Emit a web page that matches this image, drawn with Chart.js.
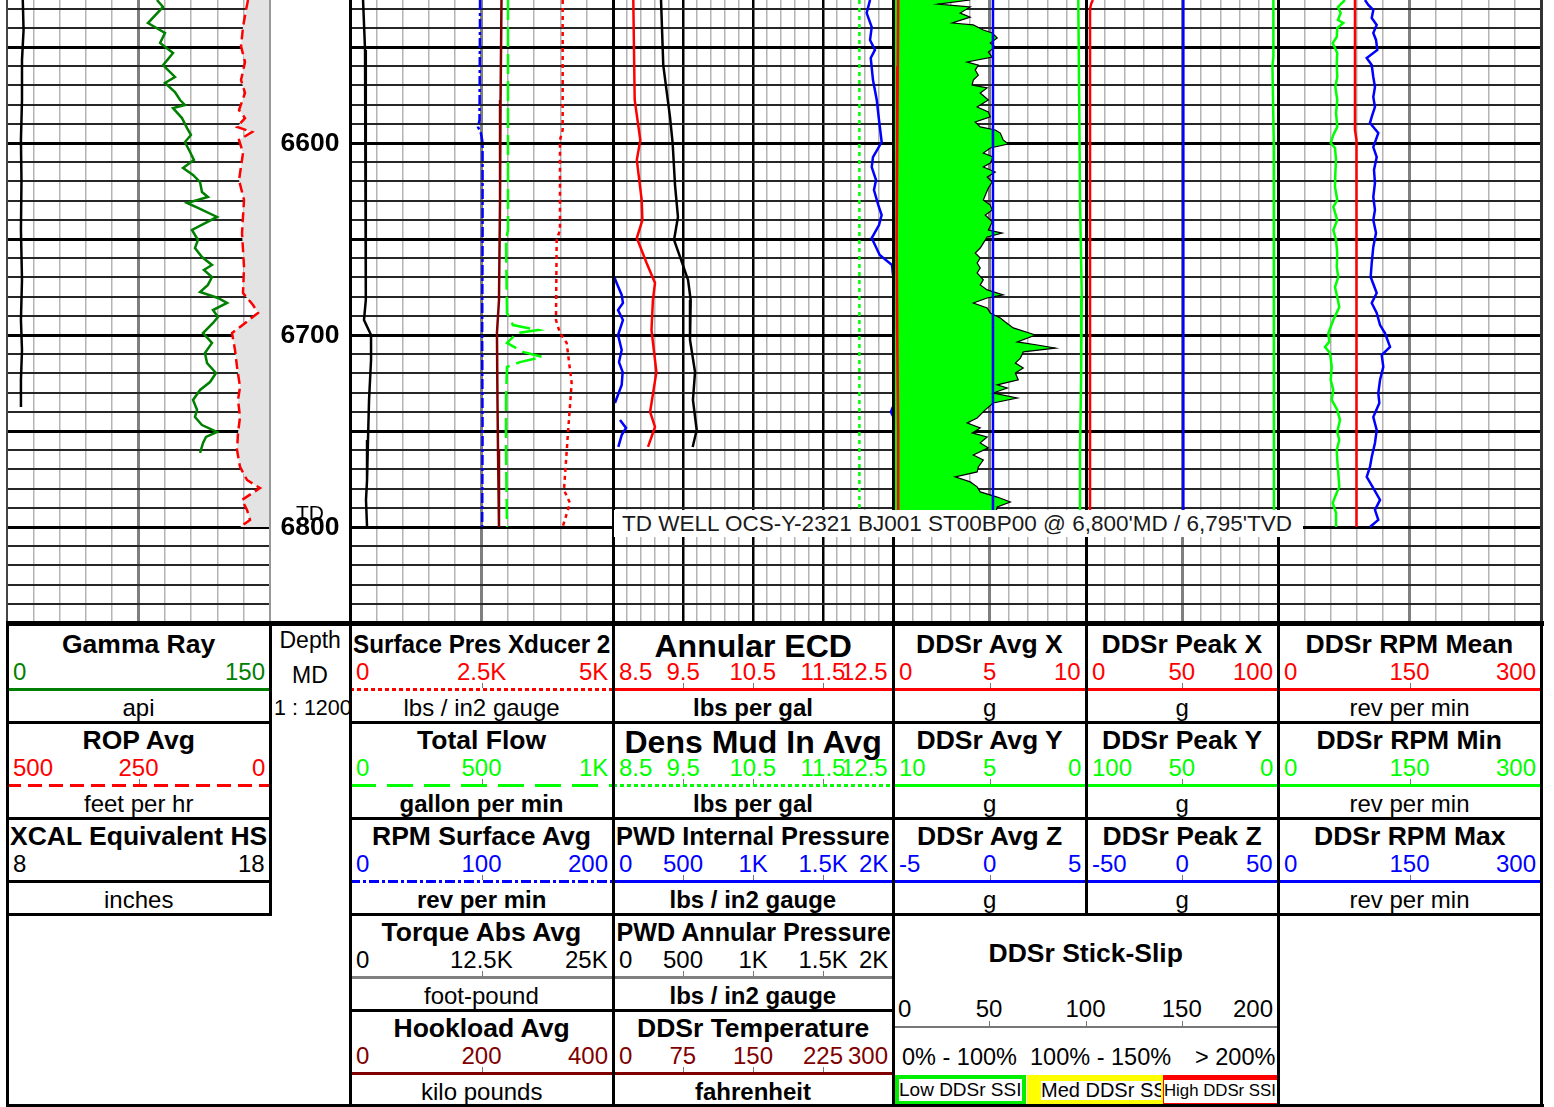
<!DOCTYPE html>
<html>
<head>
<meta charset="utf-8">
<title>Drilling dynamics log</title>
<script src="https://cdn.jsdelivr.net/npm/chart.js@4.4.1/dist/chart.umd.min.js"></script>
<style>
  html, body { margin: 0; padding: 0; background: #fff; }
  #sheet { position: relative; width: 1554px; height: 1107px; overflow: hidden;
           font-family: "Liberation Sans", Arial, Helvetica, sans-serif; color: #000; }
  .trk { position: absolute; top: 0; height: 623px; }
  .trk canvas { display: block; }
  .ln { position: absolute; }
  .txt { position: absolute; white-space: nowrap; }
  #tdBanner { position: absolute; left: 614px; top: 510px; width: 689px; height: 27px; background: #fff;
              font: 22.5px "Liberation Sans", Arial, sans-serif; line-height: 27px; padding-left: 8px;
              box-sizing: border-box; color: #1a1a1a; white-space: nowrap; overflow: hidden; }
  .ssiBox { position: absolute; overflow: hidden; }
  .ssiBox span { position: absolute; white-space: nowrap; overflow: hidden; font: 19px "Liberation Sans", Arial, sans-serif;
                 line-height: 22px; background: #fff; }
</style>
</head>
<body>
<div id="sheet"></div>
<script>
// ---------------- depth window and labels ----------------
const depthTop = 6525.5;
const depthBase = 6850;
const depthLabels = [6600, 6700, 6800];
const tdDepth = 6800;
const tdText = "TD WELL OCS-Y-2321 BJ001 ST00BP00 @ 6,800'MD / 6,795'TVD";

// ---------------- track 1 : gamma ray, ROP, caliper ----------------
const grDepth = [6525.5, 6529.1, 6537.5, 6542.7, 6547.9, 6553.1, 6559.4, 6565.6, 6568.7, 6573.4, 6577.6, 6580.2, 6581.8, 6587.0,
  6592.2, 6595.8, 6599.5, 6604.7, 6608.8, 6613.0, 6616.6, 6620.3, 6625.5, 6628.1, 6631.2, 6633.8, 6638.5, 6645.3, 6650.5,
  6654.7, 6659.4, 6663.5, 6666.1, 6669.8, 6673.9, 6677.6, 6680.7, 6683.3, 6687.0, 6690.6, 6693.7, 6699.0, 6704.1, 6709.4,
  6714.6, 6719.8, 6724.5, 6728.6, 6733.8, 6739.0, 6742.7, 6746.9, 6750.5, 6753.1, 6756.2, 6761.4];
const grApi = [85.5, 89.0, 80.4, 90.1, 87.3, 94.7, 89.0, 95.8, 90.1, 95.8, 98.7, 101.5, 94.7, 99.8,
  102.7, 104.9, 101.5, 104.4, 106.6, 100.4, 106.1, 110.1, 111.2, 114.6, 102.7, 108.9, 119.8, 105.5, 108.9,
  107.2, 111.2, 116.9, 112.3, 116.9, 114.6, 110.1, 120.3, 125.5, 117.5, 120.3, 117.5, 111.8, 116.9, 112.9,
  114.1, 119.2, 115.8, 110.1, 106.1, 108.4, 107.2, 111.2, 119.8, 113.5, 111.8, 110.1];

const ropDepth = [6525.5, 6530.7, 6539.6, 6549.5, 6557.8, 6567.2, 6573.9, 6582.8, 6587.0, 6591.6, 6594.3, 6598.4, 6605.2,
  6619.3, 6629.7, 6646.9, 6664.6, 6678.1, 6684.4, 6688.5, 6695.8, 6699.0, 6707.8, 6716.6, 6727.1, 6733.8, 6742.7, 6751.0,
  6759.9, 6768.7, 6775.5, 6779.7, 6785.9, 6791.1, 6796.3, 6800.0];
const ropFph = [41.8, 45.6, 51.3, 55.1, 47.5, 55.1, 47.5, 58.9, 47.5, 62.7, 34.2, 58.9, 51.3,
  58.9, 49.4, 53.2, 49.4, 51.3, 32.3, 22.8, 57.0, 72.2, 66.5, 62.7, 57.0, 60.8, 57.0, 60.8,
  62.7, 57.0, 43.7, 19.0, 53.2, 43.7, 38.0, 57.0];

const calDepth = [6525.5, 6541.1, 6556.8, 6577.6, 6598.4, 6619.3, 6645.3, 6671.3, 6692.2, 6707.8, 6723.4, 6737.5];
const calIn = [8.60, 8.63, 8.57, 8.57, 8.53, 8.55, 8.53, 8.57, 8.53, 8.57, 8.53, 8.53];

// ---------------- track 2 : surface mechanics ----------------
const trqDepth = [6525.5, 6551.5, 6577.6, 6603.6, 6629.7, 6655.7, 6681.8, 6692.2, 6700.0, 6713.0, 6733.8, 6754.7, 6775.5, 6785.9, 6800.0];
const trqFtLb = [1240, 1430, 1520, 1520, 1430, 1520, 1520, 1330, 2000, 2000, 1810, 1710, 1620, 1520, 1620];

const rpmSurfDepth = [6525.5, 6588.0, 6591.6, 6594.8, 6599.5, 6650.0, 6700.0, 6750.0, 6800.0];
const rpmSurf = [98.9, 98.5, 97.3, 99.5, 100.8, 100.8, 100.5, 100.8, 100.5];

const hkldDepth = [6525.5, 6577.6, 6629.7, 6681.8, 6699.0, 6733.8, 6759.9, 6780.7, 6800.0];
const hkldKlb = [230.4, 229.0, 228.2, 226.6, 223.5, 224.3, 225.1, 226.6, 226.6];

const flowDepth = [6525.5, 6645.3, 6650.5, 6688.5, 6694.8, 6697.4, 6699.0, 6704.1, 6708.8, 6711.4, 6714.1, 6716.6, 6733.8, 6759.9, 6800.0];
const flowGpm = [600.7, 600.7, 593.1, 596.9, 619.7, 714.8, 634.9, 596.9, 657.7, 730.0, 646.3, 596.9, 593.1, 593.1, 596.9];

const sppDepth = [6525.5, 6593.2, 6598.4, 6645.3, 6650.5, 6692.2, 6699.0, 6704.1, 6725.0, 6751.0, 6780.7, 6787.5, 6800.0];
const sppPsi = [4043, 4043, 3992, 3992, 3929, 3916, 3992, 4119, 4214, 4144, 4068, 4182, 4043];

// ---------------- track 3 : ECD and downhole pressure ----------------
const ecdDepth = [6525.5, 6577.6, 6598.4, 6608.8, 6629.7, 6640.1, 6649.5, 6662.5, 6672.9, 6681.8, 6697.4, 6719.3, 6740.1, 6747.9, 6758.3];
const ecdPpg = [8.79, 8.81, 8.89, 8.84, 8.91, 8.92, 8.84, 8.98, 9.10, 9.07, 9.05, 9.12, 9.03, 9.10, 9.00];

const pwdAnnDepth = [6525.5, 6559.4, 6586.4, 6600.0, 6621.9, 6638.5, 6650.5, 6662.0, 6671.3, 6681.8, 6702.6, 6719.3, 6733.8, 6749.5, 6758.3];
const pwdAnnPsi = [343, 359, 407, 426, 443, 464, 436, 492, 536, 555, 550, 586, 571, 598, 569];

const pwdIntDepth = [6525.5, 6532.3, 6539.6, 6546.3, 6551.5, 6555.7, 6567.2, 6577.6, 6588.0, 6599.5, 6607.3, 6612.5, 6619.3,
  6624.5, 6632.3, 6637.5, 6642.7, 6649.5, 6658.3, 6663.5, 6668.7, 6669.8, 6672.9, 6679.1, 6683.3, 6687.0, 6692.2, 6700.0,
  6707.8, 6714.1, 6719.3, 6726.0, 6735.4, 6737.5, 6740.1, 6742.2, 6744.3, 6748.4, 6752.1, 6758.3];
const pwdIntPsi = [1836, 1812, 1848, 1836, 1871, 1841, 1857, 1884, 1900, 1919, 1857, 1848, 1879,
  1864, 1895, 1919, 1900, 1848, 1905, 1993, 2000, 2009, 2026, 2062, 2071, 2036, 2071, 2036,
  2062, 2043, 2069, 2062, 2014, 1999, 1985, 1999, 2050, 2093, 2062, 2038];

const mwDepth = [6525.5, 6600.0, 6700.0, 6800.0];
const mwPpg = [12.02, 12.02, 12.02, 12.02];

// ---------------- track 4 : DDSr average acceleration, stick-slip ----------------
const ssiDepth = [6525.5, 6527.6, 6529.1, 6532.3, 6534.4, 6537.5, 6538.5, 6541.1, 6542.7, 6545.3, 6547.9, 6550.0, 6552.6,
  6555.2, 6557.8, 6559.4, 6562.0, 6564.6, 6567.2, 6569.8, 6571.3, 6573.9, 6577.6, 6581.2, 6583.8, 6586.4, 6589.0, 6591.6,
  6593.2, 6594.8, 6598.4, 6600.5, 6602.6, 6605.2, 6607.3, 6610.4, 6612.5, 6615.1, 6617.7, 6620.3, 6623.4, 6626.0, 6629.7,
  6632.3, 6634.9, 6637.5, 6641.1, 6645.3, 6646.9, 6648.9, 6652.1, 6654.7, 6657.3, 6659.9, 6662.5, 6665.1, 6667.7, 6671.3,
  6673.9, 6676.5, 6679.1, 6680.7, 6683.3, 6685.9, 6688.5, 6691.1, 6693.2, 6696.3, 6700.0, 6703.6, 6705.2, 6706.8, 6708.8,
  6712.0, 6714.6, 6717.2, 6719.8, 6723.4, 6726.0, 6727.6, 6730.2, 6732.8, 6735.4, 6739.0, 6743.2, 6745.8, 6748.4, 6751.0,
  6753.1, 6756.2, 6758.8, 6762.5, 6765.1, 6768.7, 6771.3, 6773.9, 6776.5, 6779.1, 6781.7, 6784.4, 6787.0, 6789.6, 6793.7, 6800.0];
const ssiPct = [40.0, 23.4, 40.0, 34.8, 40.0, 30.7, 41.6, 46.8, 51.4, 54.0, 50.4, 53.0, 49.4,
  51.4, 38.4, 44.2, 42.6, 44.2, 41.6, 41.0, 48.8, 45.2, 49.4, 43.6, 49.4, 50.4, 42.6, 45.2,
  53.0, 55.6, 57.1, 59.7, 50.4, 46.8, 51.9, 50.4, 46.8, 53.0, 48.8, 51.4, 49.4, 48.3, 46.8,
  50.4, 51.4, 47.8, 51.4, 49.4, 56.6, 48.8, 46.8, 45.2, 42.6, 45.2, 43.6, 45.2, 43.6, 46.8,
  45.2, 48.8, 57.1, 48.8, 41.6, 48.8, 50.4, 55.6, 58.2, 62.3, 73.8, 64.4, 74.8, 84.2, 67.5,
  66.0, 63.4, 67.5, 63.4, 64.9, 54.0, 59.2, 51.9, 64.4, 51.9, 47.8, 43.6, 38.4, 45.2, 41.0,
  48.8, 45.2, 49.4, 41.6, 46.8, 44.2, 43.6, 32.2, 40.0, 43.6, 45.2, 54.0, 60.8, 54.0, 53.0, 55.6];

const avgXDepth = [6525.5, 6560.0, 6600.0, 6650.0, 6700.0, 6750.0, 6800.0];
const avgXg = [0.27, 0.25, 0.22, 0.19, 0.22, 0.27, 0.27];
const avgYDepth = [6525.5, 6580.0, 6630.0, 6680.0, 6720.0, 6760.0, 6800.0];
const avgYg = [0.40, 0.35, 0.31, 0.22, 0.25, 0.31, 0.31];
const avgZDepth = [6525.5, 6800.0];
const avgZg = [0.18, 0.18];

// ---------------- track 5 : DDSr peak acceleration ----------------
const pkXDepth = [6525.5, 6527.1, 6530.0, 6800.0];
const pkXg = [3.6, 2.8, 2.1, 2.1];
const pkYDepth = [6525.5, 6555.0, 6560.0, 6600.0, 6650.0, 6700.0, 6750.0, 6800.0];
const pkYg = [2.4, 2.4, 2.9, 2.2, 2.1, 2.1, 2.1, 2.1];
const pkZDepth = [6525.5, 6800.0];
const pkZg = [0.7, 0.7];

// ---------------- track 6 : DDSr downhole RPM ----------------
const rpmMeanDepth = [6525.5, 6593.2, 6598.4, 6800.0];
const rpmMean = [87.8, 87.8, 89.5, 89.5];

const rpmMinDepth = [6525.5, 6527.1, 6529.1, 6532.3, 6535.9, 6537.5, 6540.1, 6544.8, 6547.9, 6553.1, 6558.3, 6565.6, 6570.8,
  6577.6, 6584.4, 6591.6, 6595.8, 6600.0, 6602.6, 6608.8, 6615.6, 6622.9, 6629.7, 6633.3, 6640.1, 6645.3, 6650.5, 6657.3,
  6664.6, 6669.8, 6675.0, 6680.2, 6685.4, 6692.2, 6699.0, 6703.6, 6706.2, 6709.4, 6716.6, 6723.4, 6728.6, 6733.8, 6739.0,
  6744.3, 6750.5, 6754.7, 6759.9, 6765.1, 6771.9, 6779.1, 6784.4, 6787.5, 6792.7, 6800.0];
const rpmMin = [76.4, 72.7, 68.4, 71.5, 68.4, 74.5, 67.6, 67.0, 62.4, 67.6, 67.0, 67.6, 65.4,
  67.6, 66.2, 67.6, 63.1, 60.1, 65.0, 66.2, 65.4, 65.0, 67.6, 63.1, 67.6, 63.1, 66.2, 67.6,
  67.0, 68.8, 65.0, 67.6, 69.9, 63.1, 57.4, 58.5, 53.6, 59.3, 61.3, 60.1, 63.1, 61.3, 67.6,
  70.7, 67.6, 69.9, 67.0, 67.6, 68.8, 69.9, 65.0, 62.4, 66.2, 66.2];

const rpmMaxDepth = [6525.5, 6528.1, 6530.7, 6534.9, 6538.5, 6542.7, 6546.3, 6551.5, 6555.7, 6559.4, 6565.6, 6570.8, 6576.0,
  6581.2, 6586.4, 6589.6, 6594.8, 6602.1, 6607.3, 6614.0, 6620.8, 6628.1, 6634.9, 6640.1, 6646.9, 6654.1, 6662.5, 6669.8,
  6678.1, 6683.3, 6688.5, 6694.8, 6699.0, 6706.2, 6710.4, 6716.6, 6723.4, 6730.2, 6735.4, 6742.7, 6749.5, 6756.2, 6763.5,
  6768.7, 6773.9, 6779.7, 6785.9, 6791.1, 6796.3, 6800.0];
const rpmMax = [99.2, 103.0, 108.7, 106.9, 112.6, 108.7, 111.8, 113.3, 101.2, 106.9, 108.7, 110.6, 108.7,
  110.6, 106.9, 104.9, 114.4, 108.7, 112.6, 109.5, 110.6, 108.7, 110.6, 108.7, 111.8, 108.7, 106.9, 105.7,
  112.6, 106.9, 112.6, 116.4, 122.0, 127.8, 118.3, 120.1, 116.4, 114.4, 115.6, 108.7, 112.6, 110.6, 106.9,
  104.9, 101.2, 108.7, 116.4, 110.6, 114.4, 104.9];

// ---------------- drawing ----------------
const FONT = '"Liberation Sans", Arial, Helvetica, sans-serif';
const LIME = '#00ff00', RED = '#ff0000', BLUE = '#0000ff', MAROON = '#800000', DKGREEN = '#008000';
const LOG_H = 623;
const sheet = document.getElementById('sheet');

function addBox(x, y, w, h, bg) {
  const d = document.createElement('div');
  d.className = 'ln';
  d.style.left = x + 'px'; d.style.top = y + 'px';
  d.style.width = w + 'px'; d.style.height = h + 'px';
  d.style.background = bg;
  sheet.appendChild(d);
  return d;
}

function addText(str, x, cy, opt) {
  const s = document.createElement('div');
  s.className = 'txt';
  s.textContent = str;
  const lh = Math.round(opt.size * 1.2);
  s.style.font = (opt.bold ? 'bold ' : '') + opt.size + 'px ' + FONT;
  s.style.lineHeight = lh + 'px';
  s.style.top = (cy - lh / 2) + 'px';
  s.style.color = opt.color || '#000';
  sheet.appendChild(s);
  const w = s.offsetWidth;
  const align = opt.align || 'center';
  let left = x - w / 2, origin = 'center';
  if (align === 'left') { left = x; origin = 'left'; }
  if (align === 'right') { left = x - w; origin = 'right'; }
  s.style.left = left + 'px';
  s.style.transformOrigin = origin + ' center';
  if (opt.maxW && w > opt.maxW) s.style.transform = 'scaleX(' + (opt.maxW / w) + ')';
  return s;
}

function series(depths, values) {
  return depths.map((d, i) => ({ x: values[i], y: d }));
}

// values above the scale maximum re-enter from the left edge (wrap mode)
function wrappedSeries(depths, values, span) {
  const out = [];
  for (let i = 0; i < values.length; i++) {
    const over = values[i] > span;
    if (i > 0 && over !== (values[i - 1] > span)) out.push({ x: null, y: (depths[i] + depths[i - 1]) / 2 });
    out.push({ x: over ? values[i] - span : values[i], y: depths[i] });
  }
  return out;
}

function curve(label, axisId, data, color, extra) {
  return Object.assign({
    label, xAxisID: axisId, data, borderColor: color, borderWidth: 2.5,
    pointRadius: 0, pointHitRadius: 0, tension: 0, fill: false, spanGaps: false
  }, extra || {});
}

// hidden value scales; the axis key is pinned to 'x' so any scale id is accepted
function valueAxis(min, max, reverse) {
  return { type: 'linear', axis: 'x', position: 'bottom', display: false, min, max, reverse: !!reverse };
}

const depthGridTicks = [];
for (let d = 6530; d <= 6850; d += 10) depthGridTicks.push(d);

function depthAxis(showGrid) {
  return {
    type: 'linear', reverse: true, min: depthTop, max: depthBase, display: true,
    ticks: { display: false }, border: { display: false },
    grid: {
      display: showGrid, drawTicks: false,
      color: c => (c.tick.value % 50 === 0 ? '#000' : '#262626'),
      lineWidth: c => (c.tick.value % 50 === 0 ? 3 : 2)
    },
    afterBuildTicks: s => { s.ticks = depthGridTicks.map(v => ({ value: v })); }
  };
}

function gridAxis(n, every, majorColor, majorW, minorColor, minorW) {
  const ticks = [];
  for (let i = 0; i <= n; i++) ticks.push(i);
  return {
    type: 'linear', min: 0, max: n, display: true,
    ticks: { display: false }, border: { display: false },
    grid: {
      drawTicks: false,
      color: c => (c.tick.value === 0 || c.tick.value === n) ? 'rgba(0,0,0,0)' : (c.tick.value % every === 0 ? majorColor : minorColor),
      lineWidth: c => (c.tick.value % every === 0 ? majorW : minorW)
    },
    afterBuildTicks: s => { s.ticks = ticks.map(v => ({ value: v })); }
  };
}

function makeTrack(left, width, grid, axes, datasets, plugins) {
  const box = document.createElement('div');
  box.className = 'trk';
  box.style.left = left + 'px';
  box.style.width = width + 'px';
  const cv = document.createElement('canvas');
  cv.width = width; cv.height = LOG_H;
  box.appendChild(cv);
  sheet.appendChild(box);
  const scales = Object.assign({ x: grid || { type: 'linear', display: false, min: 0, max: 1 }, y: depthAxis(!!grid) }, axes);
  return new Chart(cv, {
    type: 'line',
    data: { datasets },
    options: {
      indexAxis: 'y', responsive: false, animation: false, devicePixelRatio: 1, events: [],
      layout: { padding: 0 },
      plugins: { legend: { display: false }, tooltip: { enabled: false } },
      scales
    },
    plugins: plugins || []
  });
}

const tenDiv = () => gridAxis(10, 5, '#7f7f7f', 3, '#b4b4b4', 1.5);

// Track 1
makeTrack(7, 263, tenDiv(),
  { vGr: valueAxis(0, 150), vRop: valueAxis(0, 500, true), vCal: valueAxis(8, 18) },
  [
    curve('Gamma Ray', 'vGr', series(grDepth, grApi), DKGREEN),
    curve('XCAL Equivalent HS', 'vCal', series(calDepth, calIn), '#000'),
    curve('ROP Avg', 'vRop', series(ropDepth, ropFph), RED, { borderDash: [10, 5], fill: { value: 0 }, backgroundColor: '#e3e3e3' })
  ]);

// Depth track
const depthLabelPlugin = {
  id: 'depthLabels',
  afterDraw(chart) {
    const { ctx, chartArea, scales } = chart;
    const cx = (chartArea.left + chartArea.right) / 2;
    ctx.save();
    ctx.fillStyle = '#000';
    ctx.textAlign = 'center';
    ctx.textBaseline = 'middle';
    ctx.font = '21px ' + FONT;
    ctx.fillText('TD', cx, scales.y.getPixelForValue(tdDepth) - 13);
    ctx.font = 'bold 26.5px ' + FONT;
    depthLabels.forEach(d => ctx.fillText(String(d), cx, scales.y.getPixelForValue(d) + 1));
    ctx.restore();
  }
};
makeTrack(270, 80, null, {}, [], [depthLabelPlugin]);

// Track 2
makeTrack(350, 263, tenDiv(),
  { vTrq: valueAxis(0, 25000), vRpmS: valueAxis(0, 200), vHk: valueAxis(0, 400), vFlow: valueAxis(0, 1000), vSpp: valueAxis(0, 5000) },
  [
    curve('Torque Abs Avg', 'vTrq', series(trqDepth, trqFtLb), '#000'),
    curve('RPM Surface Avg', 'vRpmS', series(rpmSurfDepth, rpmSurf), BLUE, { borderDash: [10, 3, 3, 3] }),
    curve('Hookload Avg', 'vHk', series(hkldDepth, hkldKlb), MAROON),
    curve('Total Flow', 'vFlow', series(flowDepth, flowGpm), LIME, { borderDash: [20, 7] }),
    curve('Surface Pres Xducer 2', 'vSpp', series(sppDepth, sppPsi), RED, { borderDash: [4, 4] })
  ]);

// Track 3
makeTrack(613, 280, gridAxis(20, 5, '#000', 2.5, '#b4b4b4', 1.5),
  { vEcd: valueAxis(8.5, 12.5), vMw: valueAxis(8.5, 12.5), vPint: valueAxis(0, 2000), vPann: valueAxis(0, 2000) },
  [
    curve('Annular ECD', 'vEcd', series(ecdDepth, ecdPpg), RED),
    curve('PWD Annular Pressure', 'vPann', series(pwdAnnDepth, pwdAnnPsi), '#000'),
    curve('PWD Internal Pressure', 'vPint', wrappedSeries(pwdIntDepth, pwdIntPsi, 2000), BLUE),
    curve('Dens Mud In Avg', 'vMw', series(mwDepth, mwPpg), LIME, { borderDash: [4, 4] })
  ]);

// Track 4
makeTrack(893, 193, tenDiv(),
  { vAx: valueAxis(0, 10), vAy: valueAxis(0, 10, true), vAz: valueAxis(-5, 5), vSsi: valueAxis(0, 100) },
  [
    curve('DDSr Avg X', 'vAx', series(avgXDepth, avgXg), RED),
    curve('DDSr Avg Z', 'vAz', series(avgZDepth, avgZg), BLUE),
    curve('DDSr Avg Y', 'vAy', series(avgYDepth, avgYg), LIME),
    curve('DDSr Stick-Slip', 'vSsi', series(ssiDepth, ssiPct), '#000', { borderWidth: 1.2, fill: { value: 0 }, backgroundColor: LIME })
  ]);

// Track 5
makeTrack(1086, 192, tenDiv(),
  { vPx: valueAxis(0, 100), vPy: valueAxis(0, 100, true), vPz: valueAxis(-50, 50) },
  [
    curve('DDSr Peak X', 'vPx', series(pkXDepth, pkXg), RED),
    curve('DDSr Peak Z', 'vPz', series(pkZDepth, pkZg), BLUE),
    curve('DDSr Peak Y', 'vPy', series(pkYDepth, pkYg), LIME)
  ]);

// Track 6
makeTrack(1278, 263, tenDiv(),
  { vRpm: valueAxis(0, 300) },
  [
    curve('DDSr RPM Max', 'vRpm', series(rpmMaxDepth, rpmMax), BLUE),
    curve('DDSr RPM Mean', 'vRpm', series(rpmMeanDepth, rpmMean), RED),
    curve('DDSr RPM Min', 'vRpm', series(rpmMinDepth, rpmMin), LIME)
  ]);

// track borders over the log area
[[6, 2, '#444'], [269, 2, '#999'], [349, 3, '#000'], [612, 3, '#000'], [892, 3, '#000'],
 [1085, 3, '#000'], [1277, 3, '#000'], [1540, 3, '#333']].forEach(([x, w, c]) => addBox(x, 0, w, LOG_H, c));

// total depth banner
const banner = document.createElement('div');
banner.id = 'tdBanner';
banner.textContent = tdText;
sheet.appendChild(banner);

// ---------------- header panels ----------------
const rowTop = [626, 722, 818, 914, 1010];
const cols = { c1: [7, 270], c2: [350, 613], c3: [613, 893], c4: [893, 1086], c5: [1086, 1278], c6: [1278, 1541] };
const fiveTicks = labels => labels.map((t, i) => [t, i / 4]);
const threeTicks = labels => labels.map((t, i) => [t, i / 2]);

const headerPanels = [
  { col: 'c1', row: 0, title: 'Gamma Ray', ticks: [['0', 0], ['150', 1]], color: DKGREEN, line: 'solid', unit: 'api' },
  { col: 'c1', row: 1, title: 'ROP Avg', ticks: threeTicks(['500', '250', '0']), color: RED, line: 'dash', unit: 'feet per hr' },
  { col: 'c1', row: 2, title: 'XCAL Equivalent HS', ticks: [['8', 0], ['18', 1]], color: '#000', line: 'solid', unit: 'inches' },
  { col: 'c2', row: 0, title: 'Surface Pres Xducer 2', ticks: threeTicks(['0', '2.5K', '5K']), color: RED, line: 'dot', unit: 'lbs / in2 gauge' },
  { col: 'c2', row: 1, title: 'Total Flow', ticks: threeTicks(['0', '500', '1K']), color: LIME, line: 'longdash', unit: 'gallon per min', unitBold: true },
  { col: 'c2', row: 2, title: 'RPM Surface Avg', ticks: threeTicks(['0', '100', '200']), color: BLUE, line: 'dashdot', unit: 'rev per min', unitBold: true },
  { col: 'c2', row: 3, title: 'Torque Abs Avg', ticks: threeTicks(['0', '12.5K', '25K']), color: '#000', lineColor: '#808080', line: 'solid', unit: 'foot-pound' },
  { col: 'c2', row: 4, title: 'Hookload Avg', ticks: threeTicks(['0', '200', '400']), color: MAROON, line: 'solid', unit: 'kilo pounds' },
  { col: 'c3', row: 0, title: 'Annular ECD', titleSize: 32, ticks: fiveTicks(['8.5', '9.5', '10.5', '11.5', '12.5']), color: RED, line: 'solid', unit: 'lbs per gal', unitBold: true },
  { col: 'c3', row: 1, title: 'Dens Mud In Avg', titleSize: 32, ticks: fiveTicks(['8.5', '9.5', '10.5', '11.5', '12.5']), color: LIME, line: 'dot', unit: 'lbs per gal', unitBold: true },
  { col: 'c3', row: 2, title: 'PWD Internal Pressure', ticks: fiveTicks(['0', '500', '1K', '1.5K', '2K']), color: BLUE, line: 'solid', unit: 'lbs / in2 gauge', unitBold: true },
  { col: 'c3', row: 3, title: 'PWD Annular Pressure', ticks: fiveTicks(['0', '500', '1K', '1.5K', '2K']), color: '#000', lineColor: '#808080', line: 'solid', unit: 'lbs / in2 gauge', unitBold: true },
  { col: 'c3', row: 4, title: 'DDSr Temperature', ticks: fiveTicks(['0', '75', '150', '225', '300']), color: MAROON, line: 'solid', unit: 'fahrenheit', unitBold: true },
  { col: 'c4', row: 0, title: 'DDSr Avg X', ticks: threeTicks(['0', '5', '10']), color: RED, line: 'solid', unit: 'g' },
  { col: 'c4', row: 1, title: 'DDSr Avg Y', ticks: threeTicks(['10', '5', '0']), color: LIME, line: 'solid', unit: 'g' },
  { col: 'c4', row: 2, title: 'DDSr Avg Z', ticks: threeTicks(['-5', '0', '5']), color: BLUE, line: 'solid', unit: 'g' },
  { col: 'c5', row: 0, title: 'DDSr Peak X', ticks: threeTicks(['0', '50', '100']), color: RED, line: 'solid', unit: 'g' },
  { col: 'c5', row: 1, title: 'DDSr Peak Y', ticks: threeTicks(['100', '50', '0']), color: LIME, line: 'solid', unit: 'g' },
  { col: 'c5', row: 2, title: 'DDSr Peak Z', ticks: threeTicks(['-50', '0', '50']), color: BLUE, line: 'solid', unit: 'g' },
  { col: 'c6', row: 0, title: 'DDSr RPM Mean', ticks: threeTicks(['0', '150', '300']), color: RED, line: 'solid', unit: 'rev per min' },
  { col: 'c6', row: 1, title: 'DDSr RPM Min', ticks: threeTicks(['0', '150', '300']), color: LIME, line: 'solid', unit: 'rev per min' },
  { col: 'c6', row: 2, title: 'DDSr RPM Max', ticks: threeTicks(['0', '150', '300']), color: BLUE, line: 'solid', unit: 'rev per min' }
];

function lineFill(color, style) {
  if (style === 'dash') return 'repeating-linear-gradient(90deg,' + color + ' 0 14px, transparent 14px 21px)';
  if (style === 'longdash') return 'repeating-linear-gradient(90deg,' + color + ' 0 26px, transparent 26px 37px)';
  if (style === 'dot') return 'repeating-linear-gradient(90deg,' + color + ' 0 4px, transparent 4px 7px)';
  if (style === 'dashdot') return 'repeating-linear-gradient(90deg,' + color + ' 0 10px, transparent 10px 13px,' + color + ' 13px 16px, transparent 16px 19px)';
  return color;
}

headerPanels.forEach(p => {
  const [x0, x1] = cols[p.col];
  const w = x1 - x0;
  const top = rowTop[p.row];
  const ts = p.titleSize || 26.5;
  addText(p.title, x0 + w / 2, top + (ts > 30 ? 20 : 18), { size: ts, bold: true, maxW: w - 6 });
  p.ticks.forEach(([t, f]) => {
    let x = x0 + f * w, align = 'center';
    if (f === 0) { x = x0 + 6; align = 'left'; }
    if (f === 1) { x = x1 - 5; align = 'right'; }
    addText(t, x, top + 45, { size: 24, color: p.color, align });
    if (f > 0 && f < 1) addBox(Math.round(x0 + f * w), top + 57, 1, 5, '#777');
  });
  addBox(x0, top + 62, w, 3, lineFill(p.lineColor || p.color, p.line));
  addText(p.unit, x0 + w / 2, top + 81, { size: 24, bold: !!p.unitBold });
});

// depth column heading
addText('Depth', 310, 640, { size: 23 });
addText('MD', 310, 675, { size: 23 });
addText('1 : 1200', 274, 708, { size: 21.5, align: 'left' });

// stick-slip legend panel
const ss0 = 893, ss1 = 1278, ssTop = 914;
addText('DDSr Stick-Slip', (ss0 + ss1) / 2, ssTop + 39, { size: 26.5, bold: true });
const ssiTicks = ['0', '50', '100', '150', '200'];
ssiTicks.forEach((t, i) => {
  const f = i / 4;
  let x = ss0 + f * (ss1 - ss0), align = 'center';
  if (f === 0) { x = ss0 + 5; align = 'left'; }
  if (f === 1) { x = ss1 - 5; align = 'right'; }
  addText(t, x, ssTop + 94, { size: 24, align });
  if (f > 0 && f < 1) addBox(Math.round(ss0 + f * (ss1 - ss0)), ssTop + 107, 1, 5, '#777');
});
addBox(ss0, ssTop + 112, ss1 - ss0, 2, '#777');
addText('0% - 100%', 902, ssTop + 143, { size: 23.5, align: 'left' });
addText('100% - 150%', 1030, ssTop + 143, { size: 23.5, align: 'left' });
addText('> 200%', 1275, ssTop + 143, { size: 23.5, align: 'right' });

function ssiBox(x, y, w, h, color, inner, label) {
  const b = addBox(x, y, w, h, color);
  b.className = 'ssiBox';
  const s = document.createElement('span');
  s.textContent = label;
  s.style.left = inner[0] + 'px'; s.style.top = inner[1] + 'px';
  s.style.width = inner[2] + 'px'; s.style.height = inner[3] + 'px';
  b.appendChild(s);
  return s;
}
ssiBox(895, 1075, 131, 30, '#00ee00', [4, 4, 123, 22], 'Low DDSr SSI');
const med = ssiBox(1027, 1075, 136, 30, '#ffff00', [14, 6, 120, 19], 'Med DDSr SSI');
med.style.fontSize = '20px';
med.style.lineHeight = '19px';
const hi = ssiBox(1163, 1075, 116, 30, '#ff0000', [1, 5, 114, 23], 'High DDSr SSI');
hi.style.fontSize = '16.8px';

// header grid lines
addBox(6, 621, 1538, 5, '#000');
addBox(6, 1104, 1538, 3, '#000');
[[6, 623, 484], [269, 623, 293], [349, 623, 484], [612, 623, 484], [892, 623, 484],
 [1085, 623, 292], [1277, 623, 484], [1540, 623, 484]].forEach(([x, y, h]) => addBox(x, y, 3, h, '#000'));
[721, 817, 913].forEach(y => { addBox(6, y, 266, 3, '#000'); addBox(349, y, 1194, 3, '#000'); });
addBox(349, 1009, 546, 3, '#000');
</script>
</body>
</html>
